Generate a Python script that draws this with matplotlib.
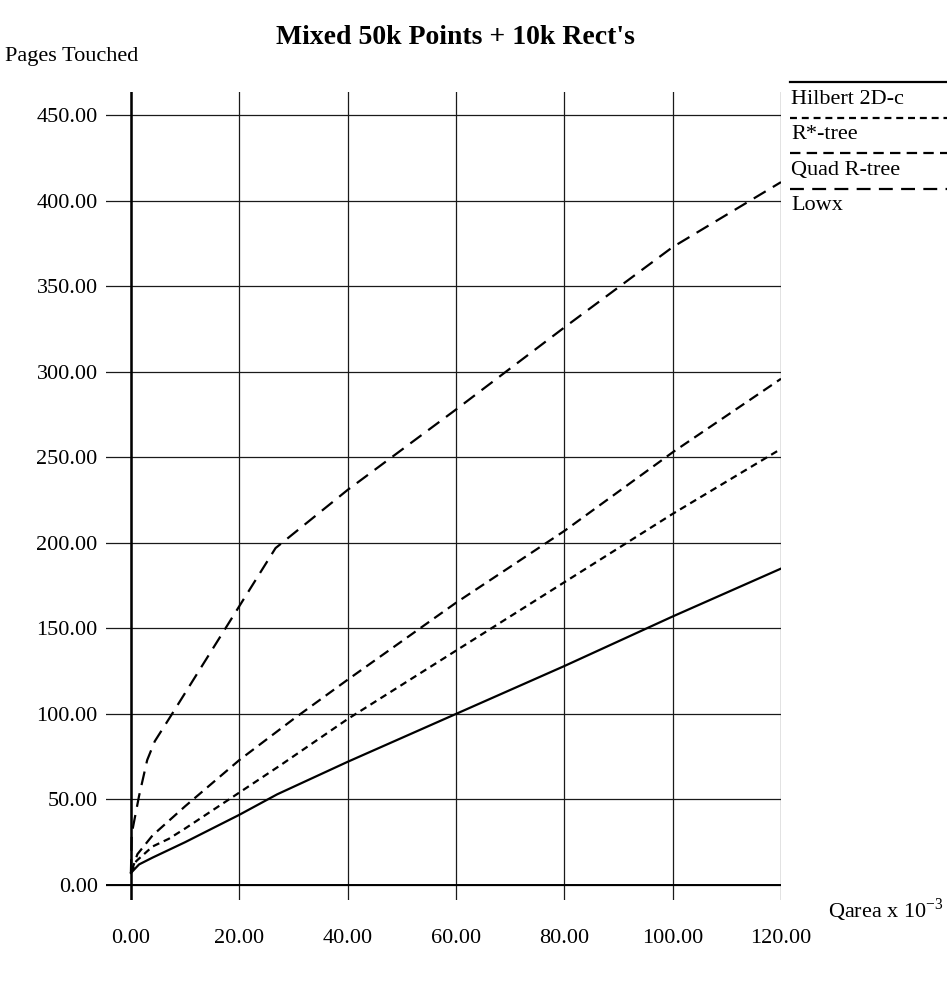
import matplotlib
matplotlib.use("Agg")
import matplotlib.pyplot as plt
from matplotlib.lines import Line2D

plt.rcParams["font.family"] = ["Liberation Serif", "DejaVu Serif"]
plt.rcParams["mathtext.fontset"] = "custom"
plt.rcParams["mathtext.rm"] = "Liberation Serif"
plt.rcParams["lines.scale_dashes"] = False

# ---------------------------------------------------------------- data
title = "Mixed 50k Points + 10k Rect's"
y_label = "Pages Touched"
x_label = "Qarea x 10$^{-3}$"

x_ticks = [0, 20, 40, 60, 80, 100, 120]
y_ticks = [0, 50, 100, 150, 200, 250, 300, 350, 400, 450]

series_names = ["Hilbert 2D-c", "R*-tree", "Quad R-tree", "Lowx"]

hilbert_x = [0, 1.5, 4, 10, 20, 27, 40, 60, 80, 100, 120]
hilbert_y = [7, 12, 16, 25, 41, 53, 72, 100, 128, 157, 185]

rstar_x = [0, 1, 4, 7, 10, 20, 27.6, 40, 60, 80, 100, 120]
rstar_y = [7, 14, 22.5, 27, 33, 54, 70, 97, 137, 177, 217, 255]

quad_x = [0, 1.2, 4, 10, 20, 30, 40, 60, 80, 100, 120]
quad_y = [7, 18, 29, 46, 73, 97, 120, 165, 207, 253, 296]

lowx_x = [0, 0.15, 1.5, 3, 4.4, 7, 26.7, 40, 60, 80, 100, 120]
lowx_y = [7, 30, 52, 73, 84, 97, 197, 231, 278, 326, 373, 411]

# ---------------------------------------------------------------- styles
dash_styles = [None, (5, 3.5), (7.5, 4.5), (10, 6)]
W, H = 947, 992

fig = plt.figure(figsize=(W / 100, H / 100), dpi=100)
# axes box in pixels: left 106, right 781, top 92, bottom 900
ax = fig.add_axes([106 / W, 1 - 900 / H, (781 - 106) / W, (900 - 92) / H])

ax.set_xlim(-4.6, 120)
ax.set_ylim(-8.8, 463.7)
for s in ax.spines.values():
    s.set_visible(False)

ax.set_xticks(x_ticks)
ax.set_yticks(y_ticks)
ax.set_xticklabels([f"{v:.2f}" for v in x_ticks])
ax.set_yticklabels([f"{v:.2f}" for v in y_ticks])
ax.tick_params(axis="both", length=0, labelsize=16)
ax.tick_params(axis="x", pad=21)
ax.tick_params(axis="y", pad=6)
ax.grid(True, color="#1a1a1a", lw=0.9)
ax.axvline(0, color="k", lw=1.8, zorder=2)
ax.axhline(0, color="k", lw=1.4, zorder=2)

all_series = [(hilbert_x, hilbert_y), (rstar_x, rstar_y),
              (quad_x, quad_y), (lowx_x, lowx_y)]
for (xs, ys), dash in zip(all_series, dash_styles):
    line, = ax.plot(xs, ys, color="k", lw=1.6, zorder=3)
    if dash is not None:
        line.set_dashes(dash)

# legend: a line above each name, to the right of the plot
for i, (name, dash) in enumerate(zip(series_names, dash_styles)):
    ly = 82 + 35.5 * i
    ln = Line2D([790 / W, 947 / W], [1 - ly / H, 1 - ly / H],
                transform=fig.transFigure, color="k", lw=1.6)
    if dash is not None:
        ln.set_dashes(dash)
    fig.add_artist(ln)
    fig.text(791 / W, 1 - (ly + 17) / H, name, fontsize=16,
             ha="left", va="center")

fig.text(455 / W, 1 - 38 / H, title, fontsize=20, fontweight="bold",
         ha="center", va="center")
fig.text(5 / W, 1 - 57 / H, y_label, fontsize=16, ha="left", va="center")
fig.text(828 / W, 1 - 910 / H, x_label, fontsize=16, ha="left", va="center")

fig.savefig("out.png", dpi=100)
